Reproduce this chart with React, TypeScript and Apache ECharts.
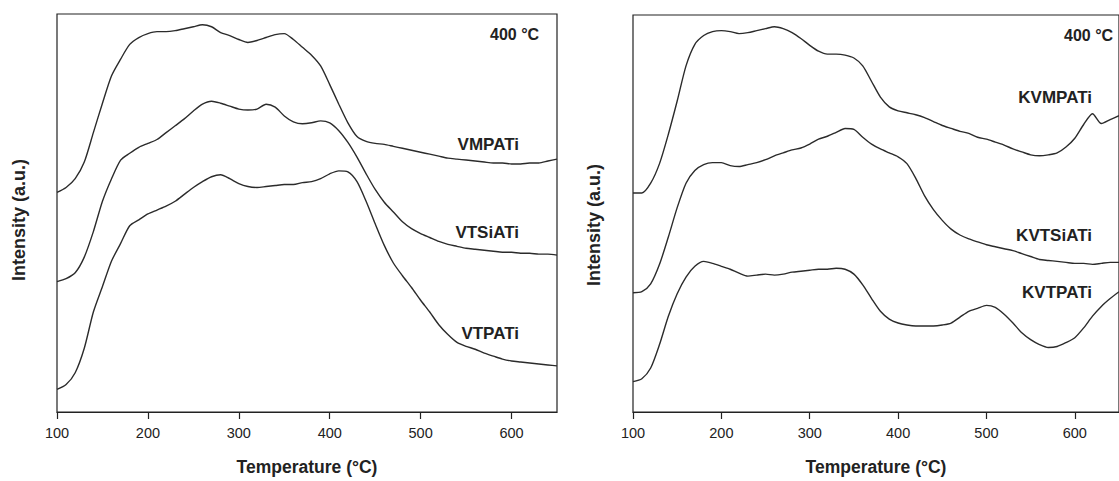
import React, { useEffect, useRef } from "react";
import * as echarts from "echarts";

// Temperature (°C) sampling points
const temperatures = [
  100, 110, 120, 130, 140, 150, 160, 170, 180, 190, 200, 210, 220, 230, 240, 250, 260, 270, 280, 290,
  300, 310, 320, 330, 340, 350, 360, 370, 380, 390, 400, 410, 420, 430, 440, 450, 460, 470, 480, 490,
  500, 510, 520, 530, 540, 550, 560, 570, 580, 590, 600, 610, 620, 630, 640, 650,
];

// Left panel (intensity, a.u.)
const vmpati = [
  224, 229, 238, 255, 285, 315, 343, 360, 375, 382, 386, 388, 388, 389, 391, 393, 395, 393, 387, 384,
  380, 377, 379, 382, 385, 386, 380, 372, 364, 353, 334, 314, 295, 281, 276, 274, 273, 271, 269, 267,
  265, 263, 261, 259, 258, 257, 256, 255, 254, 254, 253, 253, 254, 254, 256, 258,
];
const vtsiati = [
  133, 136, 142, 158, 184, 215, 238, 257, 264, 270, 274, 278, 285, 292, 299, 307, 314, 317, 315, 312,
  309, 308, 309, 314, 311, 302, 296, 294, 295, 297, 295, 287, 275, 260, 243, 227, 214, 204, 194, 187,
  182, 178, 174, 171, 169, 167, 166, 165, 164, 163, 163, 162, 162, 161, 161, 160,
];
const vtpati = [
  23, 28, 40, 65, 102, 128, 154, 172, 190, 196, 202, 206, 210, 215, 222, 229, 235, 240, 242, 238,
  233, 230, 229, 230, 231, 232, 232, 234, 235, 238, 243, 246, 245, 235, 215, 192, 170, 152, 139, 127,
  114, 102, 89, 79, 71, 67, 64, 60, 57, 54, 52, 51, 50, 49, 48, 47,
];

// Right panel (intensity, a.u.)
const kvmpati = [
  224, 224, 234, 254, 284, 318, 354, 376, 385, 389, 390, 389, 387, 388, 390, 392, 394, 392, 388, 382,
  375, 369, 366, 366, 365, 362, 354, 338, 322, 312, 308, 306, 304, 301, 297, 293, 290, 287, 285, 281,
  279, 276, 273, 269, 266, 263, 262, 263, 265, 271, 280, 294, 305, 295, 299, 303,
];
const kvtsiati = [
  122, 123, 131, 151, 179, 209, 234, 247, 253, 255, 255, 252, 251, 253, 255, 258, 262, 265, 268, 270,
  274, 279, 282, 286, 290, 289, 281, 274, 269, 265, 261, 254, 239, 221, 207, 196, 187, 181, 177, 174,
  171, 169, 167, 165, 162, 159, 156, 155, 154, 153, 152, 152, 151, 152, 153, 153,
];
const kvtpati = [
  31, 34, 45, 69, 98, 121, 138, 149, 154, 152, 149, 146, 142, 139, 140, 141, 140, 141, 143, 144,
  145, 146, 146, 147, 146, 141, 130, 116, 103, 95, 91, 89, 88, 88, 88, 89, 91, 97, 103, 106,
  109, 107, 100, 91, 81, 74, 69, 66, 67, 71, 76, 86, 98, 108, 116, 123,
];

const xTicks = [100, 200, 300, 400, 500, 600];
const leftNames = ["VMPATi", "VTSiATi", "VTPATi"];
const rightNames = ["KVMPATi", "KVTSiATi", "KVTPATi"];
const condition = "400 °C";
const xTitle = "Temperature (°C)";
const yTitle = "Intensity (a.u.)";

const FONT = "'Liberation Sans', Arial, Helvetica, sans-serif";
const INK = "#222";

export default function App() {
  const ref = useRef<HTMLDivElement>(null);

  useEffect(() => {
    if (!ref.current) return;
    const chart = echarts.init(ref.current, null, { renderer: "svg" });

    const toPairs = (vals: number[]) => temperatures.map((t, i) => [t, vals[i]]);

    const xAxisBase = (gridIndex: number) => ({
      gridIndex,
      type: "value" as const,
      min: 100,
      max: 650,
      interval: 100,
      name: xTitle,
      nameLocation: "middle" as const,
      nameGap: 46,
      nameTextStyle: { fontFamily: FONT, fontSize: 17.5, fontWeight: "bold", color: INK },
      axisLine: { show: true, lineStyle: { color: INK, width: 1.2 } },
      axisTick: {
        show: true,
        inside: false,
        length: 7,
        lineStyle: { color: INK, width: 1.2 },
        customValues: xTicks,
      },
      axisLabel: {
        fontFamily: FONT,
        fontSize: 14.5,
        color: INK,
        margin: 13,
        customValues: xTicks,
      },
      splitLine: { show: false },
    });

    const yAxisBase = (gridIndex: number) => ({
      gridIndex,
      type: "value" as const,
      min: 0,
      max: 406,
      axisLine: { show: false },
      axisTick: { show: false },
      axisLabel: { show: false },
      splitLine: { show: false },
    });

    const lineSeries = (name: string, vals: number[], idx: number) => ({
      name,
      type: "line" as const,
      xAxisIndex: idx,
      yAxisIndex: idx,
      data: toPairs(vals),
      showSymbol: false,
      smooth: 0.25,
      lineStyle: { color: "#2b2b2b", width: 1.4 },
      silent: true,
    });

    const label = (text: string, x: number, y: number, align: "left" | "right", size = 17) => ({
      type: "text" as const,
      x,
      y,
      style: {
        text,
        fontFamily: FONT,
        fontSize: size,
        fontWeight: "bold",
        fill: INK,
        align,
        verticalAlign: "middle",
      },
    });

    const yTitleText = (x: number, y: number) => ({
      type: "text" as const,
      x,
      y,
      rotation: Math.PI / 2,
      style: {
        text: yTitle,
        fontFamily: FONT,
        fontSize: 18,
        fontWeight: "bold",
        fill: INK,
        align: "center",
        verticalAlign: "middle",
      },
    });

    chart.setOption({
      animation: false,
      backgroundColor: "#fff",
      grid: [
        { left: 57, top: 14, width: 500, height: 406, show: true, borderColor: INK, borderWidth: 1.2 },
        { left: 633, top: 15, width: 498, height: 406, show: true, borderColor: INK, borderWidth: 1.2 },
      ],
      xAxis: [xAxisBase(0), xAxisBase(1)],
      yAxis: [yAxisBase(0), yAxisBase(1)],
      series: [
        lineSeries(leftNames[0], vmpati, 0),
        lineSeries(leftNames[1], vtsiati, 0),
        lineSeries(leftNames[2], vtpati, 0),
        lineSeries(rightNames[0], kvmpati, 1),
        lineSeries(rightNames[1], kvtsiati, 1),
        lineSeries(rightNames[2], kvtpati, 1),
      ],
      graphic: [
        label(condition, 490, 34, "left", 16),
        label(condition, 1064, 35, "left", 16),
        label(leftNames[0], 519, 144, "right"),
        label(leftNames[1], 519, 232, "right"),
        label(leftNames[2], 519, 333, "right"),
        label(rightNames[0], 1092, 97, "right"),
        label(rightNames[1], 1092, 235, "right"),
        label(rightNames[2], 1092, 292, "right"),
        yTitleText(19, 220),
        yTitleText(594, 225),
      ],
    });

    return () => chart.dispose();
  }, []);

  return (
    <div
      ref={ref}
      style={{ position: "fixed", left: 0, top: 0, width: 1119, height: 481, background: "#fff" }}
    />
  );
}
